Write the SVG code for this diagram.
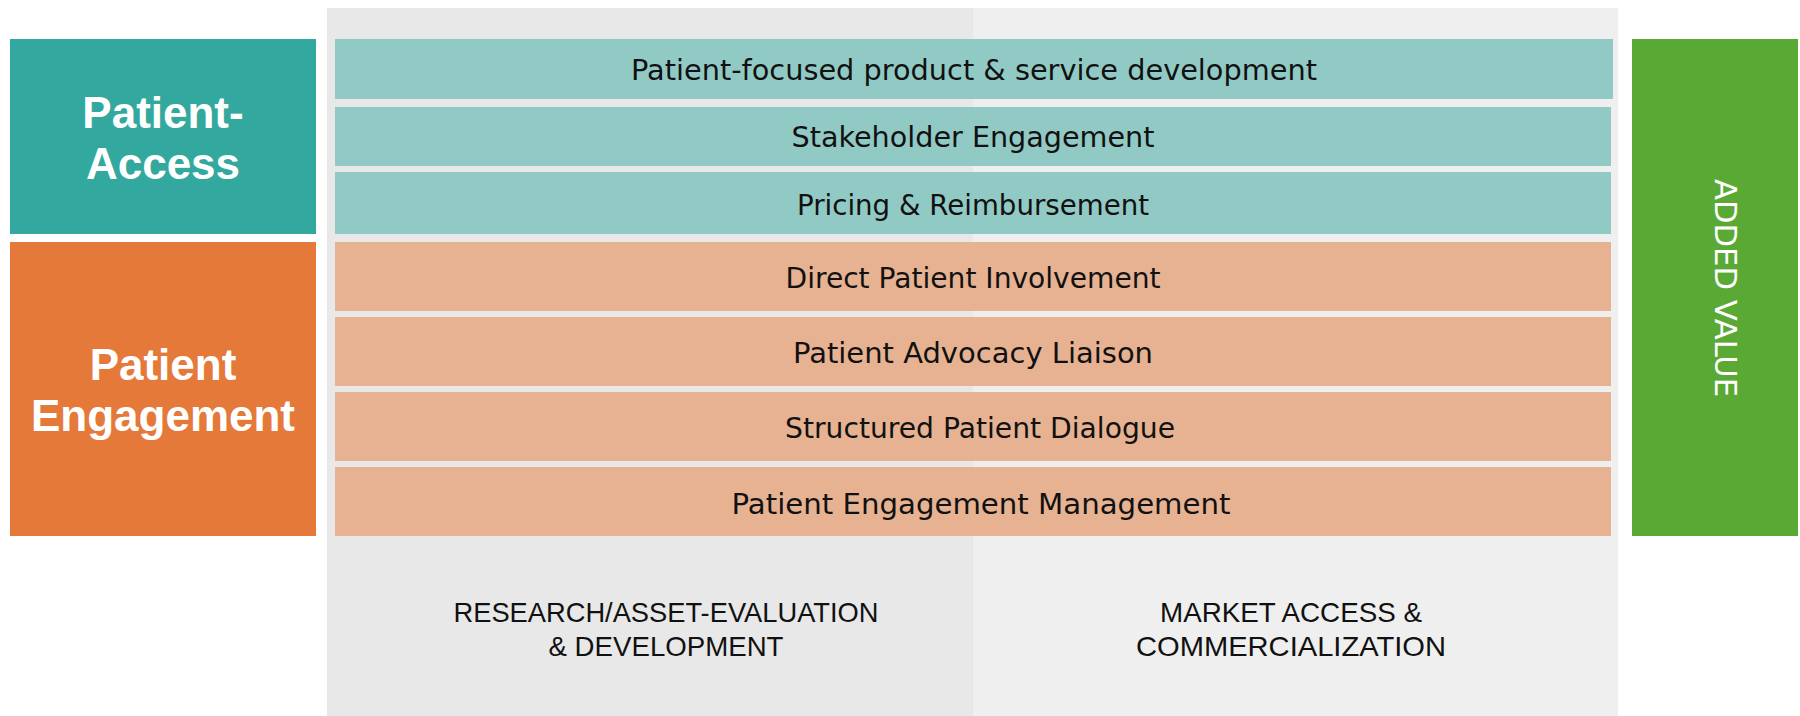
<svg xmlns="http://www.w3.org/2000/svg" width="1800" height="716" viewBox="0 0 1800 716">
  <style>
    .bar-text { font-family: "DejaVu Sans", "Liberation Sans", sans-serif; font-size: 28px; fill: #111111; text-anchor: middle; }
    .side-label { font-family: "Liberation Sans", Arial, sans-serif; font-size: 44px; font-weight: bold; fill: #ffffff; text-anchor: middle; }
    .phase-label { font-family: "Liberation Sans", Arial, sans-serif; font-size: 28px; fill: #111111; text-anchor: middle; }
    .value-label { font-family: "DejaVu Sans", "Liberation Sans", sans-serif; font-size: 31px; fill: #ffffff; text-anchor: middle; }
    .access-bar { fill: #91CAC5; }
    .engage-bar { fill: #E7B292; }
  </style>

  <rect width="1800" height="716" fill="#ffffff"/>

  <!-- background phase panels -->
  <g id="phase-research">
    <rect x="327" y="8" width="646" height="708" fill="#E8E8E8"/>
    <text class="phase-label" x="666" y="622" textLength="425" lengthAdjust="spacingAndGlyphs">RESEARCH/ASSET-EVALUATION</text>
    <text class="phase-label" x="666" y="656" textLength="235" lengthAdjust="spacingAndGlyphs">&amp; DEVELOPMENT</text>
  </g>
  <g id="phase-market">
    <rect x="973" y="8" width="645" height="708" fill="#EFEFEF"/>
    <text class="phase-label" x="1291" y="622" textLength="262" lengthAdjust="spacingAndGlyphs">MARKET ACCESS &amp;</text>
    <text class="phase-label" x="1291" y="656" textLength="310" lengthAdjust="spacingAndGlyphs">COMMERCIALIZATION</text>
  </g>

  <!-- left category boxes -->
  <g id="patient-access">
    <rect x="10" y="39" width="306" height="195" fill="#33A89E"/>
    <text class="side-label" x="163" y="128">Patient-</text>
    <text class="side-label" x="163" y="179">Access</text>
  </g>
  <g id="patient-engagement">
    <rect x="10" y="242" width="306" height="294" fill="#E5793A"/>
    <text class="side-label" x="163" y="380">Patient</text>
    <text class="side-label" x="163" y="431">Engagement</text>
  </g>

  <!-- activity bars -->
  <g id="bar-product-development">
    <rect class="access-bar" x="335" y="39" width="1278" height="60"/>
    <text class="bar-text" x="974" y="80" textLength="686" lengthAdjust="spacingAndGlyphs">Patient-focused product &amp; service development</text>
  </g>
  <g id="bar-stakeholder">
    <rect class="access-bar" x="335" y="107" width="1276" height="59"/>
    <text class="bar-text" x="973" y="147" textLength="363" lengthAdjust="spacingAndGlyphs">Stakeholder Engagement</text>
  </g>
  <g id="bar-pricing">
    <rect class="access-bar" x="335" y="172" width="1276" height="62"/>
    <text class="bar-text" x="973" y="215" textLength="352" lengthAdjust="spacingAndGlyphs">Pricing &amp; Reimbursement</text>
  </g>
  <g id="bar-direct-involvement">
    <rect class="engage-bar" x="335" y="242" width="1276" height="69"/>
    <text class="bar-text" x="973" y="288" textLength="375" lengthAdjust="spacingAndGlyphs">Direct Patient Involvement</text>
  </g>
  <g id="bar-advocacy">
    <rect class="engage-bar" x="335" y="317" width="1276" height="69"/>
    <text class="bar-text" x="973" y="363" textLength="360" lengthAdjust="spacingAndGlyphs">Patient Advocacy Liaison</text>
  </g>
  <g id="bar-dialogue">
    <rect class="engage-bar" x="335" y="392" width="1276" height="69"/>
    <text class="bar-text" x="980" y="438" textLength="390" lengthAdjust="spacingAndGlyphs">Structured Patient Dialogue</text>
  </g>
  <g id="bar-engagement-management">
    <rect class="engage-bar" x="335" y="467" width="1276" height="69"/>
    <text class="bar-text" x="981" y="514" textLength="499" lengthAdjust="spacingAndGlyphs">Patient Engagement Management</text>
  </g>

  <!-- added value column -->
  <g id="added-value">
    <rect x="1632" y="39" width="166" height="497" fill="#5BA935"/>
    <text class="value-label" transform="translate(1715,288) rotate(90)" x="0" y="0" textLength="218" lengthAdjust="spacingAndGlyphs">ADDED VALUE</text>
  </g>

  <g id="connectors"/>
</svg>
